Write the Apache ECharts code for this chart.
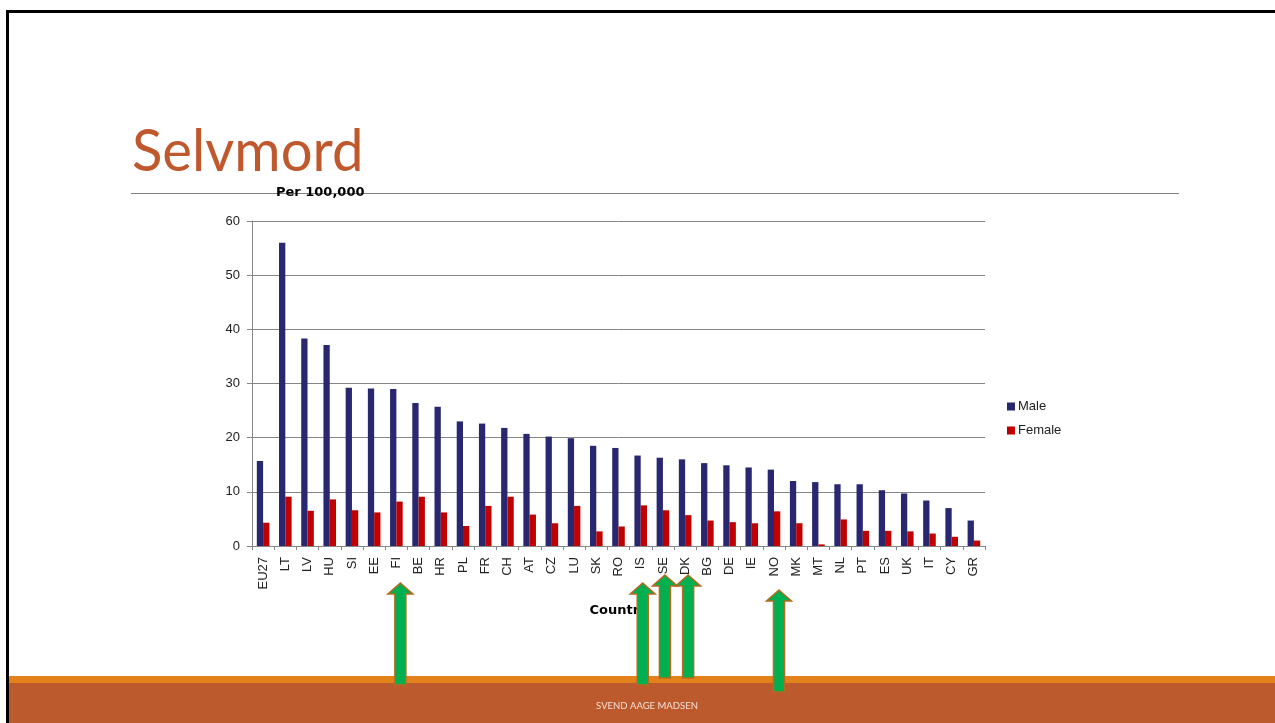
<!DOCTYPE html>
<html lang="en">
<head>
    <meta charset="UTF-8">
    <title>Selvmord</title>
    <script src="https://cdn.jsdelivr.net/npm/echarts@6/dist/echarts.min.js"></script>
    <style>
        html, body { margin: 0; padding: 0; background: #fff; }
        #chart { width: 1275px; height: 723px; }
    </style>
</head>
<body>
    <div id="chart"></div>
    <script>
        // data (suicides per 100,000)
        var countries = ['EU27', 'LT', 'LV', 'HU', 'SI', 'EE', 'FI', 'BE', 'HR', 'PL', 'FR', 'CH', 'AT', 'CZ', 'LU', 'SK', 'RO',
            'IS', 'SE', 'DK', 'BG', 'DE', 'IE', 'NO', 'MK', 'MT', 'NL', 'PT', 'ES', 'UK', 'IT', 'CY', 'GR'];
        var male = [15.7, 56.0, 38.3, 37.1, 29.2, 29.1, 29.0, 26.4, 25.7, 23.0, 22.6, 21.8, 20.7, 20.2, 19.9, 18.5, 18.1,
            16.7, 16.3, 16.0, 15.3, 14.9, 14.5, 14.1, 12.0, 11.8, 11.4, 11.4, 10.3, 9.7, 8.4, 7.0, 4.7];
        var female = [4.3, 9.1, 6.5, 8.6, 6.6, 6.2, 8.2, 9.1, 6.2, 3.7, 7.4, 9.1, 5.8, 4.2, 7.4, 2.7, 3.6,
            7.5, 6.6, 5.7, 4.7, 4.4, 4.2, 6.4, 4.2, 0.3, 4.9, 2.8, 2.8, 2.7, 2.3, 1.7, 1.0];
        var yTicks = [0, 10, 20, 30, 40, 50, 60];
        // countries marked with green arrows
        var marked = ['FI', 'IS', 'SE', 'DK', 'NO'];

        var chart = echarts.init(document.getElementById('chart'));
        var axisFont = 'Liberation Sans, Arial, sans-serif';
        var nameFont = 'DejaVu Sans, Verdana, sans-serif';

        var option = {
            animation: false,
            grid: { left: 252, right: 290, top: 221, bottom: 177 },
            legend: {
                orient: 'vertical',
                left: 1002,
                top: 395,
                itemWidth: 8,
                itemHeight: 8,
                itemGap: 11,
                icon: 'rect',
                textStyle: { fontFamily: axisFont, fontSize: 13, color: '#222', padding: [0, 0, 0, -2] },
                data: ['Male', 'Female']
            },
            xAxis: {
                type: 'category',
                data: countries,
                name: 'Country',
                nameLocation: 'middle',
                nameGap: 58,
                nameTextStyle: { fontFamily: nameFont, fontSize: 13, fontWeight: 'bold', color: '#000' },
                axisLine: { lineStyle: { color: '#868686' } },
                axisTick: { show: true, length: 4, lineStyle: { color: '#868686' } },
                axisLabel: { rotate: 90, margin: 11, fontFamily: axisFont, fontSize: 13, color: '#222' }
            },
            yAxis: {
                type: 'value',
                min: yTicks[0],
                max: yTicks[yTicks.length - 1],
                interval: 10,
                name: 'Per 100,000',
                nameLocation: 'end',
                nameGap: 22,
                nameTextStyle: { fontFamily: nameFont, fontSize: 13, fontWeight: 'bold', color: '#000', align: 'left', padding: [0, 0, 0, 24] },
                axisLine: { show: true, lineStyle: { color: '#868686' } },
                axisTick: { show: true, length: 5, lineStyle: { color: '#868686' } },
                axisLabel: { margin: 12, fontFamily: axisFont, fontSize: 13, color: '#222' },
                splitLine: { lineStyle: { color: '#868686' } }
            },
            series: [
                {
                    name: 'Male',
                    type: 'bar',
                    data: male,
                    barWidth: 6.3,
                    barGap: '0%',
                    itemStyle: { color: '#29276F' }
                },
                {
                    name: 'Female',
                    type: 'bar',
                    data: female,
                    barWidth: 6.3,
                    barGap: '0%',
                    itemStyle: { color: '#C00000' }
                }
            ]
        };
        chart.setOption(option);

        // slide decoration + title
        var graphics = [
            { type: 'line', shape: { x1: 6, y1: 11.5, x2: 1275, y2: 11.5 }, style: { stroke: '#000', lineWidth: 3 }, z: 10 },
            { type: 'rect', shape: { x: 9, y: 676, width: 1266, height: 7 }, style: { fill: '#E3821A' }, z: 1 },
            { type: 'rect', shape: { x: 9, y: 683, width: 1266, height: 40 }, style: { fill: '#BC5A2D' }, z: 1 },
            { type: 'line', shape: { x1: 7.5, y1: 10, x2: 7.5, y2: 723 }, style: { stroke: '#000', lineWidth: 3 }, z: 10 },
            {
                type: 'text', x: 647, y: 706, z: 2,
                style: { text: 'SVEND AAGE MADSEN', fontFamily: 'Lato, sans-serif', fontSize: 9.5, fill: '#F5E1D6', align: 'center', verticalAlign: 'middle' }
            },
            {
                type: 'text', x: 132, y: 123, z: 2, scaleX: 0.97,
                style: { text: 'Selvmord', fontFamily: 'Lato, sans-serif', fontWeight: 400, fontSize: 58, fill: '#BF582C', align: 'left', verticalAlign: 'top' }
            },
            { type: 'line', shape: { x1: 131, y1: 193.5, x2: 1179, y2: 193.5 }, style: { stroke: '#808080', lineWidth: 1 }, z: 0 }
        ];

        // green arrows under the marked countries
        var arrowSpec = { FI: [4, 583, 685], IS: [2, 583, 685], SE: [2, 575, 678], DK: [3, 575, 678], NO: [5, 590, 692] };
        marked.forEach(function (c) {
            var s = arrowSpec[c];
            var cx = chart.convertToPixel({ xAxisIndex: 0 }, c) + s[0];
            var top = s[1], bot = s[2];
            var hw = 12.5, sw = 5.5, hh = 11;
            graphics.push({
                type: 'polygon', z: 20,
                shape: {
                    points: [
                        [cx, top], [cx + hw, top + hh], [cx + sw, top + hh], [cx + sw, bot],
                        [cx - sw, bot], [cx - sw, top + hh], [cx - hw, top + hh]
                    ]
                },
                style: { fill: '#00B050', stroke: '#B8691E', lineWidth: 1.5 }
            });
        });

        chart.setOption({ graphic: graphics });
    </script>
</body>
</html>
